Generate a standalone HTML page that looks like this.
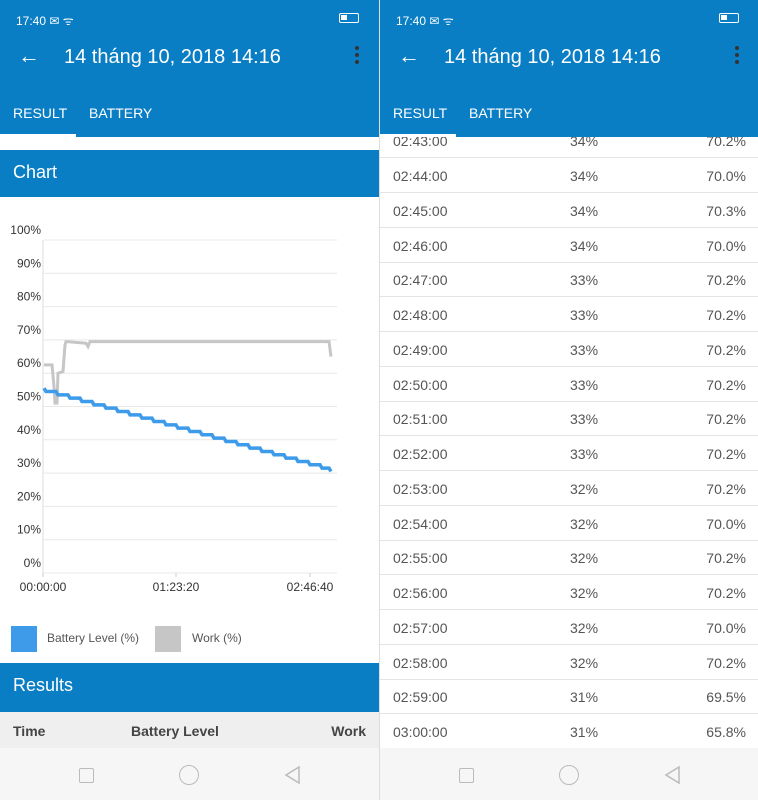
<!DOCTYPE html>
<html><head><meta charset="utf-8"><style>
*{margin:0;padding:0;box-sizing:border-box}
body{width:758px;height:800px;overflow:hidden;font-family:"Liberation Sans",Roboto,sans-serif;background:#fff;position:relative}
.p{position:absolute;top:0;width:379px;height:800px;overflow:hidden;background:#fff}
.hd{position:absolute;left:0;top:0;width:379px;height:137px;background:#0a7ec4}
.st{position:absolute;left:16px;top:12px;color:#fff;font-size:12px}
.bat{position:absolute;right:20px;top:13px;width:20px;height:10px;border:1.5px solid #fff;border-radius:2px}
.bat i{position:absolute;left:1px;top:1px;width:6px;height:5px;background:#fff}
.ti{position:absolute;left:64px;top:46px;color:#fff;font-size:20px}
.ar{position:absolute;left:18px;top:43px;color:#fff;font-size:22px}
.mn{position:absolute;right:20px;top:46px;width:4px}
.mn i{display:block;width:4px;height:4px;background:#333;border-radius:2px;margin-bottom:3px}
.tab{position:absolute;top:105px;color:#fff;font-size:14px}
.ind{position:absolute;left:0;top:134px;width:76px;height:3px;background:#fff}
.sec{position:absolute;left:0;width:379px;height:47px;background:#0a7ec4;color:#fff;font-size:18px;padding:12px 13px}
.row{position:absolute;left:0;width:379px;height:35px;border-bottom:1px solid #e4e4e4;font-size:14px;color:#555}
.row span{position:absolute;top:10px}
.nav{position:absolute;left:0;top:748px;width:379px;height:52px;background:#f6f6f6}
</style></head><body>
<div class="p" style="left:0">
 <div class="hd"><div class="st">17:40 ✉ ᯤ</div><div class="bat"><i></i></div>
 <div class="ar">←</div><div class="ti">14 tháng 10, 2018 14:16</div><div class="mn"><i></i><i></i><i></i></div>
 <div class="tab" style="left:13px">RESULT</div><div class="tab" style="left:89px">BATTERY</div><div class="ind"></div></div>
 <div class="sec" style="top:150px">Chart</div>
 <svg style="position:absolute;left:0;top:197px" width="379" height="420">
  <g id="g" font-size="12" fill="#333" font-family="Liberation Sans,sans-serif"></g>
 </svg>
 <div style="position:absolute;left:11px;top:626px;width:26px;height:26px;background:#3d9bea"></div>
 <div style="position:absolute;left:47px;top:631px;font-size:12px;color:#555">Battery Level (%)</div>
 <div style="position:absolute;left:155px;top:626px;width:26px;height:26px;background:#c6c6c6"></div>
 <div style="position:absolute;left:192px;top:631px;font-size:12px;color:#555">Work (%)</div>
 <div class="sec" style="top:663px;height:49px">Results</div>
 <div style="position:absolute;left:0;top:712px;width:379px;height:36px;background:#efefef;font-weight:bold;color:#444;font-size:14px">
  <span style="position:absolute;left:13px;top:11px">Time</span><span style="position:absolute;left:131px;top:11px">Battery Level</span><span style="position:absolute;right:13px;top:11px">Work</span></div>
 <div class="nav"></div>
</div>
<div class="p" style="left:379px;border-left:1px solid #ddd" id="r">
 <div class="nav"></div>
</div>
<script>
var nav='<div style="position:absolute;left:79px;top:768px;width:15px;height:15px;border:1.5px solid #bbb;border-radius:2px"></div><div style="position:absolute;left:179px;top:765px;width:20px;height:20px;border:1.5px solid #bbb;border-radius:50%"></div><svg style="position:absolute;left:283px;top:765px" width="20" height="20"><path d="M16 2 L3 10 L16 18 Z" fill="none" stroke="#bbb" stroke-width="1.5"/></svg>';
document.querySelectorAll('.nav').forEach(function(n){n.parentNode.insertAdjacentHTML('beforeend',nav)});
var r=document.getElementById('r');
var d=[["02:43:00","34%","70.2%"],["02:44:00","34%","70.0%"],["02:45:00","34%","70.3%"],["02:46:00","34%","70.0%"],["02:47:00","33%","70.2%"],["02:48:00","33%","70.2%"],["02:49:00","33%","70.2%"],["02:50:00","33%","70.2%"],["02:51:00","33%","70.2%"],["02:52:00","33%","70.2%"],["02:53:00","32%","70.2%"],["02:54:00","32%","70.0%"],["02:55:00","32%","70.2%"],["02:56:00","32%","70.2%"],["02:57:00","32%","70.0%"],["02:58:00","32%","70.2%"],["02:59:00","31%","69.5%"],["03:00:00","31%","65.8%"]];
var h='';d.forEach(function(x,i){var c=175+(i-1)*34.75-17;h+='<div class="row" style="top:'+c+'px"><span style="left:13px">'+x[0]+'</span><span style="left:190px">'+x[1]+'</span><span style="right:13px">'+x[2]+'</span></div>'});
r.insertAdjacentHTML('afterbegin',h);
r.insertAdjacentHTML('beforeend','<div class="hd"><div class="st">17:40 ✉ ᯤ</div><div class="bat"><i></i></div><div class="ar">←</div><div class="ti">14 tháng 10, 2018 14:16</div><div class="mn"><i></i><i></i><i></i></div><div class="tab" style="left:13px">RESULT</div><div class="tab" style="left:89px">BATTERY</div><div class="ind"></div></div>');
var g=document.getElementById('g'),s='',o=197;
function Y(v){return 573-o-v*3.33}
for(var v=0;v<=100;v+=10){s+='<line x1="43" x2="337" y1="'+Y(v)+'" y2="'+Y(v)+'" stroke="#e8e8e8"/>';s+='<text x="41" y="'+(Y(v)-6)+'" text-anchor="end">'+v+'%</text>'}
s+='<line x1="43" x2="43" y1="'+Y(100)+'" y2="'+Y(0)+'" stroke="#ddd"/>';
[[43,"00:00:00"],[176,"01:23:20"],[310,"02:46:40"]].forEach(function(t){s+='<line x1="'+t[0]+'" x2="'+t[0]+'" y1="'+Y(0)+'" y2="'+(Y(0)+4)+'" stroke="#ccc"/><text x="'+t[0]+'" y="'+(Y(0)+18)+'" text-anchor="middle">'+t[1]+'</text>'});
var w=[[44,62.5],[52,62.5],[54,56],[55,51],[57,51],[58,60],[63,60.5],[65,68.5],[66,69.5],[86,69],[88,68],[90,69.5],[329,69.5],[331,65]];
s+='<polyline fill="none" stroke="#c6c6c6" stroke-width="3" points="'+w.map(function(p){return p[0]+','+Y(p[1])}).join(' ')+'"/>';
var b=[[44,55.5]],x=46,val=54.5;b.push([46,54.5]);
while(val>31){var nx=x+12;if(nx>331)nx=331;b.push([nx-2,val]);val-=1;b.push([nx,val]);x=nx}
b.push([331,30.5]);
s+='<polyline fill="none" stroke="#3d9bea" stroke-width="3.5" points="'+b.map(function(p){return p[0]+','+Y(p[1])}).join(' ')+'"/>';
g.innerHTML=s;
</script>
</body></html>
